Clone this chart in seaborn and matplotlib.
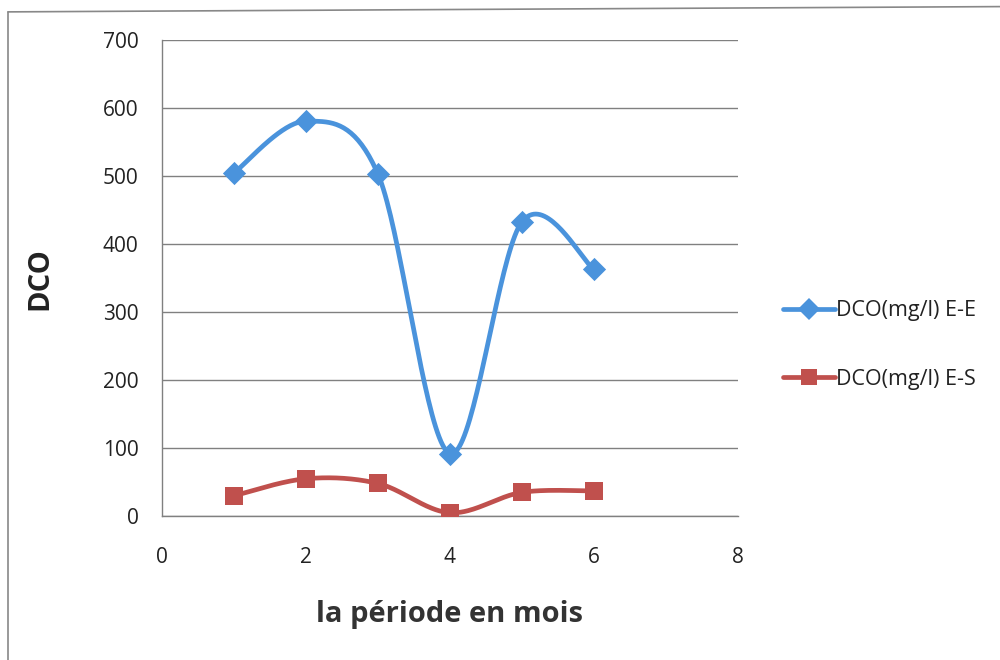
import numpy as np
import pandas as pd
import matplotlib
matplotlib.use("Agg")
import matplotlib.pyplot as plt
from matplotlib.lines import Line2D
import seaborn as sns

# Data
months = [1, 2, 3, 4, 5, 6]
dco_ee = [505, 581, 503, 92, 433, 363]
dco_es = [30, 55, 48, 5, 35, 37]
series_names = ["DCO(mg/l) E-E", "DCO(mg/l) E-S"]
x_ticks = [0, 2, 4, 6, 8]
y_ticks = [0, 100, 200, 300, 400, 500, 600, 700]

colors = ["#4a93dc", "#c0504d"]
markers = ["D", "s"]


def smooth(xs, ys, n=40):
    """Excel-like smoothed line (Catmull-Rom Bezier) through the data points."""
    xs = np.asarray(xs, float)
    ys = np.asarray(ys, float)
    P = np.column_stack([xs, ys])
    out = []
    for i in range(len(P) - 1):
        p0 = P[i - 1] if i > 0 else P[i]
        p1 = P[i]
        p2 = P[i + 1]
        p3 = P[i + 2] if i + 2 < len(P) else P[i + 1]
        c1 = p1 + (p2 - p0) / 6.0
        c2 = p2 - (p3 - p1) / 6.0
        t = np.linspace(0, 1, n, endpoint=(i == len(P) - 2))[:, None]
        b = ((1 - t) ** 3) * p1 + 3 * ((1 - t) ** 2) * t * c1 + 3 * (1 - t) * t ** 2 * c2 + t ** 3 * p2
        out.append(b)
    out = np.vstack(out)
    return out[:, 0], out[:, 1]


sns.set_theme(style="white")
plt.rcParams["font.family"] = ["Open Sans", "DejaVu Sans"]

fig = plt.figure(figsize=(10, 6.6), dpi=100)
ax = fig.add_axes([0.162, 0.218, 0.576, 0.721])

handles = []
for name, ys, c, m in zip(series_names, [dco_ee, dco_es], colors, markers):
    sx, sy = smooth(months, ys)
    df_s = pd.DataFrame({"x": sx, "y": sy})
    sns.lineplot(data=df_s, x="x", y="y", sort=False, ax=ax, color=c, linewidth=3.4,
                 estimator=None, zorder=3)
    df_p = pd.DataFrame({"x": months, "y": ys})
    sns.scatterplot(data=df_p, x="x", y="y", ax=ax, color=c, marker=m,
                    s=160 if m == "s" else 140, edgecolor=c, linewidth=0, zorder=4)
    handles.append(Line2D([0], [0], color=c, linewidth=3.4, marker=m,
                          markersize=12 if m == "s" else 11, markeredgewidth=0))

ax.set_xlim(0, 8)
ax.set_ylim(0, 700)
ax.set_xticks(x_ticks)
ax.set_yticks(y_ticks)
ax.yaxis.grid(True, color="#808080", linewidth=1.0)
ax.xaxis.grid(False)
for s in ["top", "right"]:
    ax.spines[s].set_visible(False)
ax.spines["left"].set_color("#808080")
ax.spines["bottom"].set_color("#808080")
ax.spines["left"].set_linewidth(1.0)
ax.spines["bottom"].set_linewidth(1.0)
ax.tick_params(axis="both", length=0, labelsize=15, labelcolor="#222222")
ax.tick_params(axis="x", pad=22)
ax.tick_params(axis="y", pad=17)
ax.set_xlabel("la période en mois", fontsize=21, fontweight="bold", color="#333333", labelpad=23)
ax.set_ylabel("DCO", fontsize=21, fontweight="bold", color="#222222", labelpad=35)

leg = fig.legend(handles, series_names, loc="center left", bbox_to_anchor=(0.764, 0.477),
                 frameon=False, fontsize=15.5, handlelength=2.4, handletextpad=0.05,
                 labelspacing=2.2)
for t in leg.get_texts():
    t.set_color("#222222")

# chart border (left and top edges visible in the scan)
fig.add_artist(Line2D([0.008, 0.008], [0.0, 0.982], color="#888888", linewidth=1.2,
                      transform=fig.transFigure))
fig.add_artist(Line2D([0.008, 1.0], [0.982, 0.99], color="#888888", linewidth=1.2,
                      transform=fig.transFigure))

fig.savefig("out.png", dpi=100)
